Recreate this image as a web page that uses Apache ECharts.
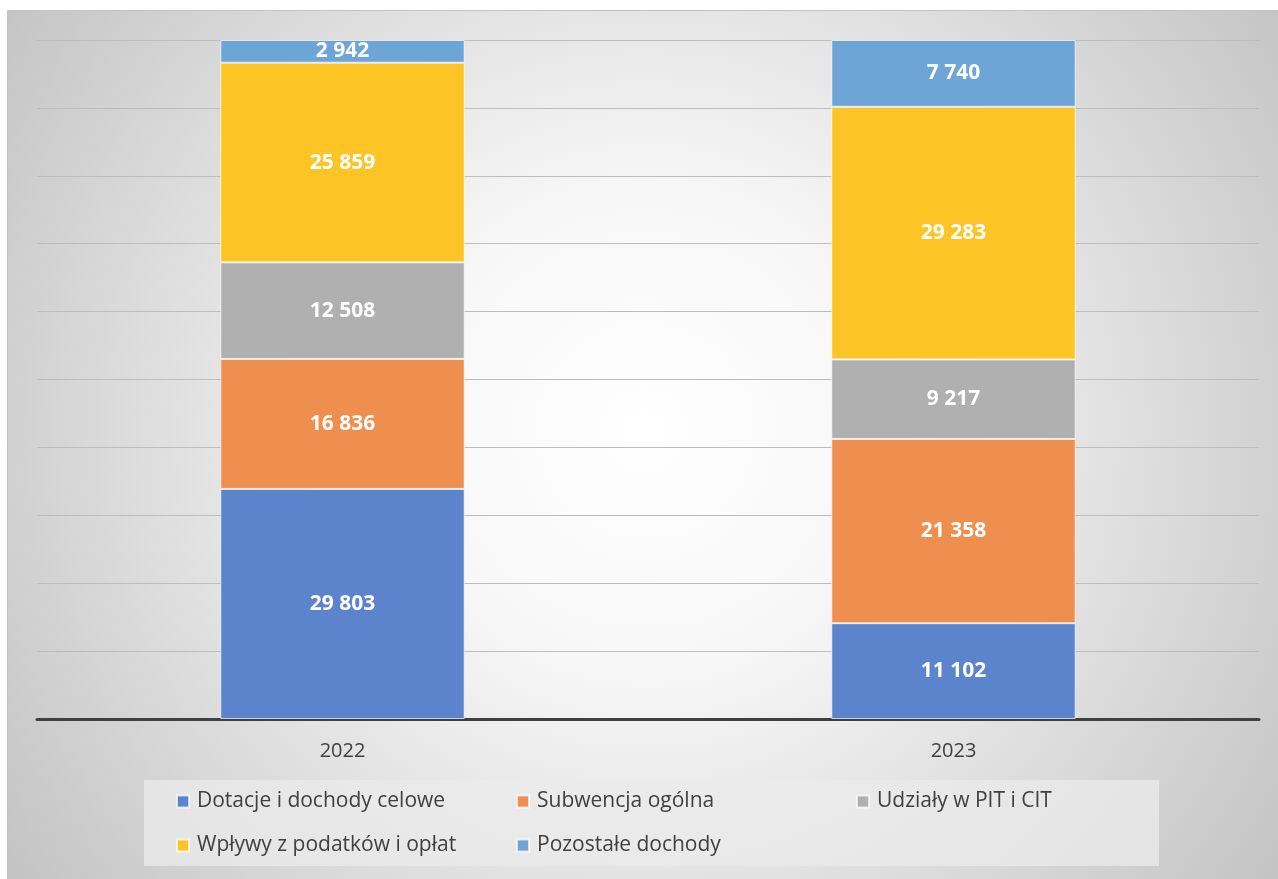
<!DOCTYPE html>
<html>
<head>
<meta charset="utf-8">
<style>
html,body{margin:0;padding:0;background:#fff;}
#chart{width:1278px;height:879px;}
</style>
<script src="https://cdn.jsdelivr.net/npm/echarts@6/dist/echarts.min.js"></script>
</head>
<body>
<div id="chart"></div>
<script>
const categories = ['2022', '2023'];
const seriesNames = ['Dotacje i dochody celowe', 'Subwencja ogólna', 'Udziały w PIT i CIT', 'Wpływy z podatków i opłat', 'Pozostałe dochody'];
const dotacje = [29803, 11102];
const subwencja = [16836, 21358];
const udzialy = [12508, 9217];
const wplywy = [25859, 29283];
const pozostale = [2942, 7740];
const colors = ['#5b84cc', '#ee8f4f', '#b0b0b0', '#fcc424', '#6ea5d7'];

const allValues = [dotacje, subwencja, udzialy, wplywy, pozostale];
const totals = categories.map((c, i) => allValues.reduce((s, arr) => s + arr[i], 0));
const fmt = v => String(v).replace(/\B(?=(\d{3})+(?!\d))/g, ' ');

const FONT = '"Open Sans", "Noto Sans", sans-serif';

const series = allValues.map((arr, k) => ({
  name: seriesNames[k],
  type: 'bar',
  stack: 'total',
  barWidth: '40%',
  data: arr.map((v, i) => ({ value: v / totals[i] * 100, raw: v })),
  itemStyle: { color: colors[k], borderColor: 'rgba(255,255,255,0.7)', borderWidth: 1 },
  label: {
    show: true,
    position: 'inside',
    color: '#ffffff',
    fontFamily: FONT,
    fontWeight: 'bold',
    fontSize: 21,
    formatter: p => fmt(p.data.raw)
  },
  emphasis: { disabled: true }
}));

const legendPos = [
  [176, 791], [516, 791], [856, 791],
  [176, 835], [516, 835]
];
const legends = seriesNames.map((n, k) => ({
  data: [n],
  left: legendPos[k][0],
  top: legendPos[k][1],
  padding: 0,
  orient: 'horizontal',
  itemWidth: 12,
  itemHeight: 12,
  itemGap: 4,
  icon: 'rect',
  selectedMode: false,
  textStyle: { color: '#404040', fontSize: 21, fontFamily: FONT, padding: [0, 0, 0, 3] }
}));

const chart = echarts.init(document.getElementById('chart'), null, { renderer: 'canvas' });
chart.setOption({
  backgroundColor: '#ffffff',
  animation: false,
  color: colors,
  graphic: [
    {
      type: 'rect',
      z: -10,
      silent: true,
      shape: { x: 7.5, y: 10.5, width: 1275, height: 875 },
      style: {
        fill: new echarts.graphic.RadialGradient(0.5, 0.48, 0.9, [
          { offset: 0, color: '#ffffff' },
          { offset: 0.3, color: '#f7f7f7' },
          { offset: 1, color: '#c2c2c2' }
        ]),
        stroke: '#c4c4c4',
        lineWidth: 1
      }
    },
    {
      type: 'rect',
      z: -5,
      silent: true,
      shape: { x: 144, y: 780, width: 1015, height: 86 },
      style: { fill: 'rgba(235,235,235,0.75)' }
    }
  ],
  legend: legends,
  grid: { left: 37, right: 19, top: 40, bottom: 160, containLabel: false },
  xAxis: {
    type: 'category',
    data: categories,
    axisLine: { show: true, lineStyle: { color: '#404040', width: 3 } },
    axisTick: { show: false },
    axisLabel: { color: '#404040', fontSize: 20, fontFamily: FONT, margin: 22 }
  },
  yAxis: {
    type: 'value',
    min: 0,
    max: 100,
    interval: 10,
    axisLabel: { show: false },
    axisLine: { show: false },
    axisTick: { show: false },
    splitLine: { lineStyle: { color: '#bdbdbd', width: 1 } }
  },
  series: series
});
</script>
</body>
</html>
